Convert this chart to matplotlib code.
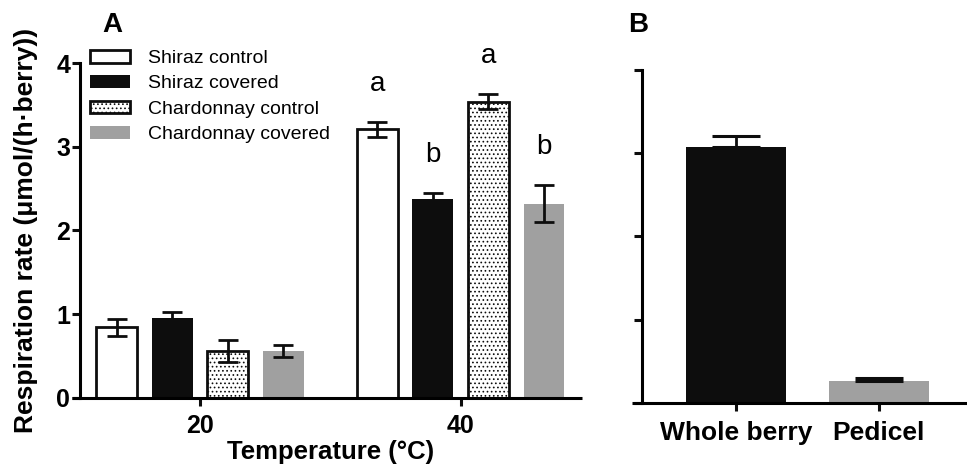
import numpy as np
import matplotlib
matplotlib.use("Agg")
import matplotlib.pyplot as plt

plt.rcParams["font.family"] = ["Liberation Sans", "DejaVu Sans"]
plt.rcParams["hatch.linewidth"] = 0.7

# panel A data
temps = ["20", "40"]
series = ["Shiraz control", "Shiraz covered", "Chardonnay control", "Chardonnay covered"]
means = {
    "Shiraz control": [0.84, 3.21],
    "Shiraz covered": [0.95, 2.38],
    "Chardonnay control": [0.555, 3.54],
    "Chardonnay covered": [0.56, 2.32],
}
errs = {
    "Shiraz control": [0.10, 0.09],
    "Shiraz covered": [0.07, 0.07],
    "Chardonnay control": [0.13, 0.09],
    "Chardonnay covered": [0.07, 0.22],
}
letters_40 = ["a", "b", "a", "b"]

# panel B data
parts = ["Whole berry", "Pedicel"]
part_means = [3.08, 0.26]
part_errs = [0.13, 0.04]

black = "#0d0d0d"
grey = "#a0a0a0"
styles = {
    "Shiraz control": dict(color="white", edgecolor=black, linewidth=2.0),
    "Shiraz covered": dict(color=black, edgecolor=black, linewidth=0),
    "Chardonnay control": dict(color="white", edgecolor=black, linewidth=2.0, hatch="...."),
    "Chardonnay covered": dict(color=grey, edgecolor=grey, linewidth=0),
}

W, H = 967, 469
fig = plt.figure(figsize=(W / 100, H / 100), dpi=100)


def px_axes(l, r, t, b):
    return fig.add_axes([l / W, 1 - b / H, (r - l) / W, (b - t) / H])


def style_axes(ax, spine_x):
    for s in ["top", "right"]:
        ax.spines[s].set_visible(False)
    ax.spines["left"].set_position(("data", spine_x))
    ax.spines["left"].set_linewidth(2.2)
    ax.spines["bottom"].set_linewidth(2.2)
    ax.spines["bottom"].set_capstyle("butt")
    ax.tick_params(width=2.2, length=6, color=black)
    ax.set_ylim(0, 4)
    ax.set_yticks([0, 1, 2, 3, 4])


# ---- panel A ----
axA = px_axes(71.7, 581.7, 63.3, 397.7)
x = np.arange(len(temps))
step = 0.213
width = 0.157
for i, name in enumerate(series):
    pos = x + (i - 1.5) * step
    axA.bar(pos, means[name], width, label=name, zorder=2, **styles[name])
    axA.errorbar(pos, means[name], yerr=errs[name], fmt="none", ecolor=black,
                 elinewidth=2.0, capsize=7.5, capthick=2.0, zorder=3)
    top = means[name][1] + errs[name][1]
    axA.text(pos[1], top + 0.37, letters_40[i], ha="center", va="baseline",
             fontsize=20)

axA.set_xlim(-0.492, 1.464)
style_axes(axA, -0.46)
axA.set_xticks(x)
axA.set_xticklabels(temps)
axA.tick_params(axis="both", labelsize=18)
axA.tick_params(axis="y", pad=1)
axA.tick_params(axis="x", pad=6)
for lab in axA.get_xticklabels() + axA.get_yticklabels():
    lab.set_fontweight("bold")
axA.set_xlabel("Temperature (°C)", fontsize=18.5, fontweight="bold")
axA.xaxis.set_label_coords(0.5 + 4 / 510, -0.125)

leg = axA.legend(loc="upper left", bbox_to_anchor=(90 / W, 1 - 50 / H),
                 bbox_transform=fig.transFigure, frameon=False, fontsize=14,
                 handlelength=2.06, handleheight=0.62, handletextpad=0.93,
                 labelspacing=0.42, borderpad=0, borderaxespad=0)

fig.text(112.5 / W, 1 - 32 / H, "A", fontsize=20, fontweight="bold", ha="center",
         va="baseline")
fig.text(26 / W, 1 - 230 / H, "Respiration rate (μmol/(h·berry))", rotation=90,
         fontsize=19, fontweight="bold", ha="center", va="center")

# ---- panel B ----
axB = px_axes(631.7, 967, 70, 403)
xb = np.arange(len(parts))
axB.bar(xb, part_means, 0.70, color=[black, grey], linewidth=0, zorder=2)
axB.errorbar(xb, part_means, yerr=[np.zeros(len(parts)), part_errs], fmt="none",
             ecolor=black, elinewidth=2.0, capsize=17.5, capthick=2.2, zorder=3)
axB.set_xlim(-0.727, 1.617)
style_axes(axB, -0.657)
axB.set_xticks(xb)
axB.set_xticklabels(parts, fontsize=19, fontweight="bold")
axB.set_yticklabels([])
axB.tick_params(axis="x", pad=7)

fig.text(638 / W, 1 - 32 / H, "B", fontsize=20, fontweight="bold", ha="center",
         va="baseline")

fig.savefig("out.png", dpi=100)
